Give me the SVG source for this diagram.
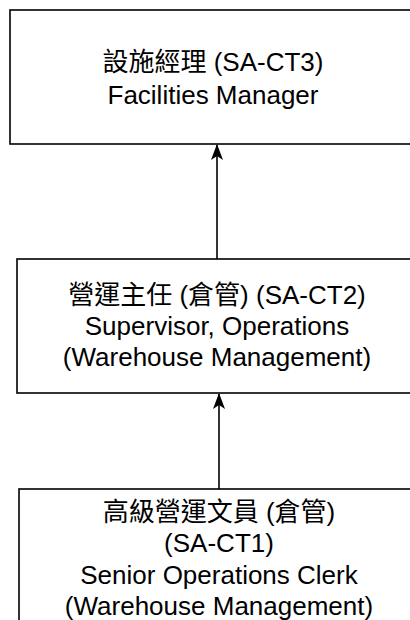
<svg xmlns="http://www.w3.org/2000/svg" width="410" height="620" viewBox="0 0 410 620">
<style>
.box{fill:#ffffff;stroke:#000000;stroke-width:1.6}
.lbl{font-family:"Liberation Sans","Noto Sans CJK TC",sans-serif;font-size:26px;fill:#000000;text-anchor:middle;dominant-baseline:central}
.edge{fill:none;stroke:#000000;stroke-width:1.6}
</style>
<defs>
<marker id="arr" markerUnits="userSpaceOnUse" viewBox="0 0 16 12" refX="15" refY="6" markerWidth="16" markerHeight="12" orient="auto">
<path d="M16,6 L0,0 L4,6 L0,12 Z" fill="#000000"/>
</marker>
</defs>
<rect width="410" height="620" fill="#ffffff"/>
<g id="connectors">
<line class="edge" x1="217" y1="259" x2="217" y2="145" marker-end="url(#arr)"/>
<line class="edge" x1="219" y1="489" x2="219" y2="394" marker-end="url(#arr)"/>
</g>
<g id="node-ct3">
<rect class="box" x="10" y="10" width="406" height="134"/>
<text class="lbl" x="213" y="62">設施經理 (SA-CT3)</text>
<text class="lbl" x="213" y="95">Facilities Manager</text>
</g>
<g id="node-ct2">
<rect class="box" x="17" y="259" width="400" height="134"/>
<text class="lbl" x="217" y="295">營運主任 (倉管) (SA-CT2)</text>
<text class="lbl" x="217" y="326">Supervisor, Operations</text>
<text class="lbl" x="217" y="357">(Warehouse Management)</text>
</g>
<g id="node-ct1">
<rect class="box" x="19" y="489" width="400" height="140"/>
<text class="lbl" x="219" y="512">高級營運文員 (倉管)</text>
<text class="lbl" x="219" y="543">(SA-CT1)</text>
<text class="lbl" x="219" y="575">Senior Operations Clerk</text>
<text class="lbl" x="219" y="606">(Warehouse Management)</text>
</g>
</svg>
